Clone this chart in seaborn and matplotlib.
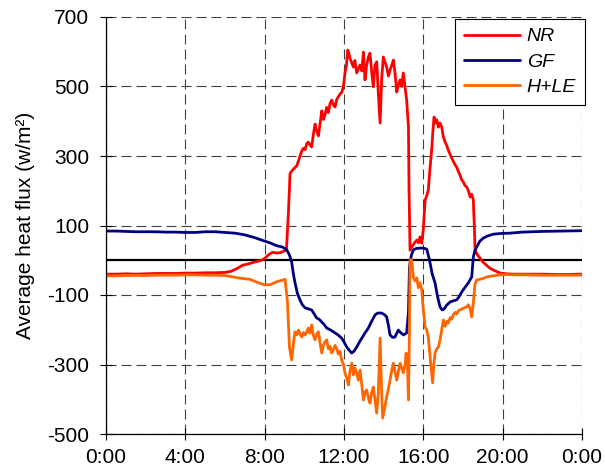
import matplotlib
matplotlib.use("Agg")
import matplotlib.pyplot as plt
import seaborn as sns
import pandas as pd

# ---------------- data (hours of day, W/m2) ----------------
nr_hours = [0, 0.5, 1, 1.5, 2, 2.5, 3, 3.5, 4, 4.5, 5, 5.5, 6, 6.3, 6.6, 6.9, 7.2, 7.5, 7.8, 8.0,
            8.2, 8.4, 8.6, 8.8, 9.0, 9.1, 9.2, 9.28, 9.36, 9.45, 9.55, 9.62, 9.70, 9.78, 9.87, 9.95,
            10.04, 10.12, 10.2, 10.28, 10.37, 10.45, 10.54, 10.62, 10.71, 10.8, 10.88, 10.96, 11.04,
            11.13, 11.21, 11.3, 11.38, 11.46, 11.55, 11.63, 11.71, 11.8, 11.89, 11.97, 12.05, 12.12,
            12.19, 12.25, 12.3, 12.38, 12.47, 12.55, 12.64, 12.72, 12.81, 12.9, 12.98, 13.06, 13.14,
            13.23, 13.31, 13.4, 13.48, 13.56, 13.65, 13.73, 13.82, 13.9, 13.98, 14.07, 14.15, 14.24,
            14.32, 14.4, 14.49, 14.57, 14.66, 14.74, 14.83, 14.91, 14.99, 15.08, 15.16, 15.25, 15.28,
            15.33, 15.41, 15.5, 15.58, 15.67, 15.75, 15.83, 15.92, 16.0, 16.09, 16.17, 16.25, 16.33,
            16.42, 16.48, 16.54, 16.6, 16.68, 16.76, 16.84, 16.93, 17.01, 17.1, 17.18, 17.26, 17.35,
            17.43, 17.51, 17.6, 17.68, 17.77, 17.85, 17.94, 18.02, 18.1, 18.19, 18.27, 18.36, 18.44,
            18.52, 18.57, 18.61, 18.7, 18.86, 19.0, 19.2, 19.36, 19.6, 19.87, 20.2, 20.6, 21, 22, 23, 24]
nr_values = [-40, -40, -39, -40, -39, -38, -38, -38, -37, -37, -36, -36, -35, -32, -24, -14, -10, -5, -1, 5,
             16, 23, 21, 22, 27, 32, 140, 250, 256, 262, 268, 272, 285, 300, 314, 322,
             318, 336, 340, 332, 326, 360, 392, 372, 358, 395, 430, 405, 418,
             440, 425, 452, 461, 448, 441, 462, 470, 478, 484, 500, 539, 560,
             605, 595, 582, 570, 556, 575, 539, 550, 562, 545, 599, 519, 560,
             585, 596, 540, 499, 560, 571, 481, 395, 520, 585, 570, 556, 530,
             547, 560, 576, 540, 484, 505, 519, 500, 539, 499, 461, 383, 200,
             29, 38, 45, 52, 58, 50, 67, 49, 90, 173, 185, 202, 260,
             317, 370, 412, 395, 404, 383, 395, 383, 355, 340, 330, 317, 305,
             294, 285, 275, 268, 255, 245, 231, 225, 215, 211, 200, 182, 190,
             173, 100, 29, 18, 6, -5, -15, -23, -30, -37, -39, -40, -40, -40, -41, -40]

gf_hours = [0, 0.5, 1, 1.5, 2, 2.5, 3, 3.5, 4, 4.5, 5, 5.5, 6, 6.5, 7.0, 7.5, 8.0, 8.27, 8.6, 8.9,
            9.11, 9.25, 9.36, 9.45, 9.53, 9.65, 9.78, 9.9, 10.04, 10.2, 10.37, 10.5, 10.62, 10.75,
            10.88, 11.0, 11.13, 11.3, 11.55, 11.7, 11.88, 12.0, 12.14, 12.25, 12.39, 12.5, 12.64,
            12.75, 12.9, 13.05, 13.23, 13.4, 13.57, 13.7, 13.9, 14.05, 14.15, 14.25, 14.32, 14.45,
            14.57, 14.66, 14.74, 14.85, 15.0, 15.16, 15.25, 15.3, 15.4, 15.5, 15.65, 15.83, 16.0,
            16.17, 16.25, 16.34, 16.45, 16.59, 16.7, 16.84, 16.95, 17.05, 17.18, 17.35, 17.5, 17.68,
            17.8, 17.94, 18.1, 18.27, 18.44, 18.52, 18.6, 18.69, 18.85, 19.03, 19.25, 19.53, 19.9,
            20.37, 21, 22, 23, 24]
gf_values = [84, 84, 83, 82, 82, 82, 81, 81, 80, 80, 82, 82, 80, 78, 73, 65, 55, 50, 42, 38,
             30, 15, -5, -40, -65, -95, -114, -128, -137, -140, -143, -155, -166, -170,
             -178, -185, -195, -200, -209, -215, -224, -235, -250, -258, -267, -262, -250,
             -238, -224, -210, -195, -175, -157, -152, -152, -157, -163, -190, -215, -222,
             -221, -210, -201, -208, -215, -209, -150, -20, 15, 30, 34, 35, 35,
             32, 15, -8, -40, -65, -100, -134, -143, -140, -129, -120, -117, -114,
             -105, -91, -78, -65, -48, 9, 28, 38, 55, 64, 70, 75, 77,
             78, 81, 83, 84, 85]

hle_hours = [0, 0.5, 1, 1.5, 2, 2.5, 3, 3.5, 4, 4.5, 5, 5.5, 6, 6.4, 6.8, 7.26, 7.6, 8.0, 8.3, 8.6,
             8.9, 9.03, 9.15, 9.25, 9.36, 9.45, 9.53, 9.62, 9.70, 9.78, 9.87, 9.95, 10.04, 10.12,
             10.2, 10.28, 10.37, 10.45, 10.54, 10.62, 10.71, 10.8, 10.88, 10.96, 11.04, 11.13, 11.21,
             11.3, 11.38, 11.46, 11.55, 11.63, 11.71, 11.8, 11.88, 11.97, 12.05, 12.14, 12.22, 12.3,
             12.39, 12.47, 12.55, 12.64, 12.72, 12.81, 12.9, 12.98, 13.06, 13.14, 13.23, 13.31, 13.4,
             13.48, 13.56, 13.65, 13.73, 13.82, 13.9, 13.95, 14.07, 14.15, 14.24, 14.32, 14.4, 14.49,
             14.57, 14.66, 14.74, 14.83, 14.91, 14.99, 15.08, 15.13, 15.2, 15.25, 15.3, 15.33, 15.41,
             15.5, 15.58, 15.67, 15.75, 15.83, 15.92, 16.0, 16.09, 16.17, 16.25, 16.37, 16.47, 16.53,
             16.59, 16.68, 16.76, 16.84, 16.93, 17.01, 17.1, 17.18, 17.26, 17.35, 17.43, 17.51, 17.6,
             17.68, 17.77, 17.85, 17.94, 18.02, 18.1, 18.19, 18.27, 18.36, 18.44, 18.52, 18.6, 18.69,
             18.85, 19.03, 19.2, 19.5, 19.87, 20.2, 20.6, 21, 22, 23, 24]
hle_values = [-45, -45, -44, -44, -44, -43, -43, -43, -42, -42, -43, -43, -44, -48, -52, -55, -63, -71, -70, -62,
              -57, -55, -120, -250, -287, -240, -206, -215, -201, -212, -221, -208, -215, -206,
              -195, -210, -186, -215, -229, -212, -206, -240, -267, -245, -235, -229, -255,
              -248, -267, -258, -245, -253, -270, -262, -287, -300, -324, -340, -359, -320,
              -296, -330, -310, -324, -345, -316, -360, -402, -380, -373, -395, -411, -380,
              -365, -400, -440, -382, -224, -380, -454, -420, -393, -370, -345, -320, -296,
              -320, -345, -320, -296, -310, -324, -300, -267, -300, -402, -200, 0, 2,
              -48, -60, -51, -79, -65, -85, -143, -192, -200, -221, -296, -353, -300,
              -267, -255, -250, -230, -200, -172, -190, -175, -181, -165, -170, -157, -150,
              -155, -145, -143, -140, -138, -136, -134, -128, -140, -163, -123, -70, -57,
              -55, -52, -48, -45, -42, -41, -42, -42, -43, -43, -43]

series_names = ["NR", "GF", "H+LE"]
series_colors = ["#FF0000", "#000080", "#FF6600"]
x_ticks = [0, 4, 8, 12, 16, 20, 24]
x_tick_labels = ["0:00", "4:00", "8:00", "12:00", "16:00", "20:00", "0:00"]
y_ticks = [-500, -300, -100, 100, 300, 500, 700]

# ---------------- build long-form table ----------------
frames = []
for name, hrs, vals in zip(series_names, [nr_hours, gf_hours, hle_hours],
                           [nr_values, gf_values, hle_values]):
    frames.append(pd.DataFrame({"hour": hrs, "flux": vals, "series": name}))
df = pd.concat(frames, ignore_index=True)

# ---------------- style ----------------
sns.set_theme(style="white")
plt.rcParams["font.family"] = ["Liberation Sans", "DejaVu Sans"]
plt.rcParams["axes.unicode_minus"] = False
plt.rcParams["text.color"] = "black"
plt.rcParams["axes.labelcolor"] = "black"
plt.rcParams["xtick.color"] = "black"
plt.rcParams["ytick.color"] = "black"

fig = plt.figure(figsize=(6.05, 4.76), dpi=100)
ax = fig.add_axes([106 / 605, 1 - 434 / 476, 476 / 605, 417 / 476])

ax.axhline(0, color="black", linewidth=1.6, zorder=1)

sns.lineplot(data=df, x="hour", y="flux", hue="series", hue_order=series_names,
             palette=dict(zip(series_names, series_colors)), estimator=None,
             linewidth=2, ax=ax, zorder=2)

ax.set_xlim(0, 24)
ax.set_ylim(-500, 700)
ax.set_xticks(x_ticks)
ax.set_xticklabels(x_tick_labels)
ax.set_yticks(y_ticks)
ax.set_xlabel("")
ax.set_ylabel("Average heat flux (w/m²)", fontsize=15, labelpad=9)

ax.grid(True, color="#404040", linestyle=(0, (9, 4.5)), linewidth=0.8)
ax.set_axisbelow(True)

for s in ["top", "right"]:
    ax.spines[s].set_visible(False)
for s in ["left", "bottom"]:
    ax.spines[s].set_color("black")
    ax.spines[s].set_linewidth(0.9)

ax.tick_params(axis="both", direction="inout", length=8, width=0.8, labelsize=15,
               colors="black", left=True, bottom=True)
ax.tick_params(axis="x", pad=6)
ax.tick_params(axis="y", pad=8)

handles, labels = ax.get_legend_handles_labels()
leg = ax.legend(handles, labels, loc="upper right",
                bbox_to_anchor=(585 / 605, 1 - 19 / 476), bbox_transform=fig.transFigure,
                frameon=True, fancybox=False, edgecolor="black", framealpha=1,
                borderaxespad=0, borderpad=0.45, handlelength=2.9, handletextpad=0.35,
                labelspacing=0.4, prop={"style": "italic", "size": 14})
leg.get_frame().set_linewidth(0.8)
for line in leg.get_lines():
    line.set_linewidth(2)

fig.savefig("out.png", dpi=100)
